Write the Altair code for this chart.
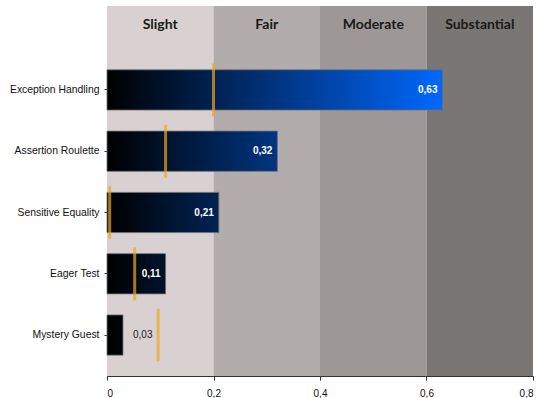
import altair as alt
import pandas as pd

# Agreement (kappa) per test smell, with the reference markers
smells = ["Exception Handling", "Assertion Roulette", "Sensitive Equality", "Eager Test", "Mystery Guest"]
kappa = [0.63, 0.32, 0.21, 0.11, 0.03]
markers = [0.20, 0.11, 0.005, 0.052, 0.096]

# Interpretation bands along the x axis
band_names = ["Slight", "Fair", "Moderate", "Substantial"]
band_start = [0.0, 0.2, 0.4, 0.6]
band_end = [0.2, 0.4, 0.6, 0.8]
band_colors = ["#d9d1d1", "#b2acac", "#9d9897", "#797674"]

x_ticks = [0, 0.2, 0.4, 0.6, 0.8]

bars = pd.DataFrame({"smell": smells, "kappa": kappa, "marker": markers})
bands = pd.DataFrame({"band": band_names, "start": band_start, "end": band_end})

W, H = 426, 327
FONT = "Liberation Sans"

x_scale = alt.Scale(domain=[0, 0.8], nice=False)
y_enc = alt.Y(
    "smell:N",
    sort=smells,
    scale=alt.Scale(paddingInner=0.344, paddingOuter=0.34),
    axis=alt.Axis(
        title=None, labelFont=FONT, labelFontSize=10.4, labelColor="#111111",
        labelPadding=5, tickSize=3, tickColor="#333333", domainColor="#333333",
    ),
)

band_rects = alt.Chart(bands).mark_rect().encode(
    x=alt.X("start:Q", scale=x_scale,
            axis=alt.Axis(title=None, values=x_ticks, grid=False,
                          labelExpr="datum.value == 0 ? '0' : replace(format(datum.value, '.1f'), '.', ',')",
                          labelFont=FONT, labelFontSize=10, labelColor="#111111",
                          labelPadding=8, tickSize=4, tickColor="#333333",
                          domainColor="#333333")),
    x2="end:Q",
    y=alt.value(-43),
    y2=alt.value(H),
    color=alt.Color("band:N", scale=alt.Scale(domain=band_names, range=band_colors), legend=None),
)

band_labels = alt.Chart(bands).transform_calculate(
    mid="(datum.start + datum.end) / 2"
).mark_text(font="Lato", fontSize=14, fontWeight="bold", color="#1a1a1a").encode(
    x=alt.X("mid:Q", scale=x_scale),
    y=alt.value(-24),
    text="band:N",
)

# One layer per bar so each gets its own black-to-blue gradient,
# ending at the shade reached at that bar's value.
top = max(kappa)
end_rgb = (0, 104, 255)
bar_layers = []
for name, v in zip(smells, kappa):
    t = v / top
    r, g, b = (round(c * t) for c in end_rgb)
    grad = alt.Gradient(
        gradient="linear",
        stops=[alt.GradientStop(color="#000000", offset=0),
               alt.GradientStop(color=f"#{r:02x}{g:02x}{b:02x}", offset=1)],
        x1=0, x2=1, y1=0, y2=0,
    )
    layer = alt.Chart(bars).transform_filter(
        alt.datum.smell == name
    ).mark_bar(color=grad, stroke="#6f6f6f", strokeWidth=0.8).encode(
        x=alt.X("kappa:Q", scale=x_scale),
        y=y_enc,
    )
    bar_layers.append(layer)

labelled = alt.Chart(bars).transform_calculate(
    label="replace(format(datum.kappa, '.2f'), '.', ',')"
)

inside_labels = labelled.transform_filter("datum.kappa >= 0.05").mark_text(
    align="right", dx=-5, font=FONT, fontSize=10, fontWeight="bold", color="white"
).encode(x=alt.X("kappa:Q", scale=x_scale), y=y_enc, text="label:N")

outside_labels = labelled.transform_filter("datum.kappa < 0.05").mark_text(
    align="left", dx=10, font=FONT, fontSize=10, color="#222222"
).encode(x=alt.X("kappa:Q", scale=x_scale), y=y_enc, text="label:N")

marker_ticks = alt.Chart(bars).mark_tick(
    color="#f0a51c", thickness=3, size=53
).encode(x=alt.X("marker:Q", scale=x_scale), y=y_enc)

chart = alt.layer(
    band_rects, band_labels, *bar_layers, inside_labels, outside_labels, marker_ticks
).properties(
    width=W, height=H,
    autosize=alt.AutoSizeParams(type="none"),
    padding={"left": 107, "top": 49, "right": 6, "bottom": 22},
    background="white",
).configure_view(stroke=None)

chart.save("out.html", embed_options={"renderer": "svg", "actions": False})
